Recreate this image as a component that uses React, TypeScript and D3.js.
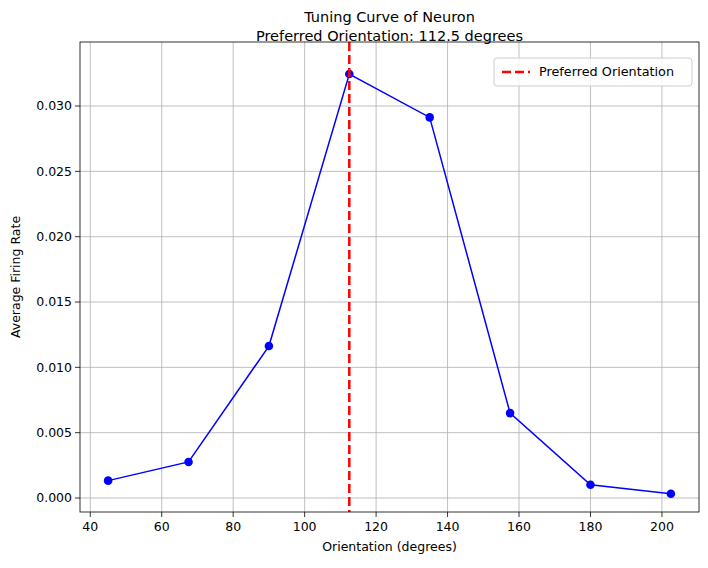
import { useEffect } from "react";
import * as d3 from "d3";

const orientations = [45, 67.5, 90, 112.5, 135, 157.5, 180, 202.5];
const firingRates = [0.00133, 0.00276, 0.01163, 0.03245, 0.02913, 0.0065, 0.00102, 0.00033];
const xTicks = [40, 60, 80, 100, 120, 140, 160, 180, 200];
const yTicks = [0, 0.005, 0.01, 0.015, 0.02, 0.025, 0.03];
const preferred = 112.5;

const W = 708;
const H = 568;
const m = { left: 80, right: 699, top: 42, bottom: 512 };
const font = "DejaVu Sans, sans-serif";

export default function App() {
  useEffect(() => {
    document.body.style.margin = "0";
  }, []);

  const x = d3.scaleLinear().domain([37.125, 210.375]).range([m.left, m.right]);
  const y = d3.scaleLinear().domain([-0.00107, 0.0349]).range([m.bottom, m.top]);
  const line = d3.line<number>().x((_, i) => x(orientations[i])).y((d) => y(d));
  const cx = (m.left + m.right) / 2;

  return (
    <svg width={W} height={H} style={{ display: "block", background: "#fff" }} fontFamily={font}>
      {xTicks.map((t) => (
        <g key={"x" + t}>
          <line x1={x(t)} x2={x(t)} y1={m.top} y2={m.bottom} stroke="#b0b0b0" strokeWidth={0.8} />
          <line x1={x(t)} x2={x(t)} y1={m.bottom} y2={m.bottom + 5} stroke="#000" strokeWidth={0.8} />
          <text x={x(t)} y={m.bottom + 19} textAnchor="middle" fontSize={12.5}>{t}</text>
        </g>
      ))}
      {yTicks.map((t) => (
        <g key={"y" + t}>
          <line x1={m.left} x2={m.right} y1={y(t)} y2={y(t)} stroke="#b0b0b0" strokeWidth={0.8} />
          <line x1={m.left - 5} x2={m.left} y1={y(t)} y2={y(t)} stroke="#000" strokeWidth={0.8} />
          <text x={m.left - 8} y={y(t)} dy="0.35em" textAnchor="end" fontSize={12.5}>{t.toFixed(3)}</text>
        </g>
      ))}
      <path d={line(firingRates) ?? ""} fill="none" stroke="blue" strokeWidth={1.5} />
      {firingRates.map((v, i) => (
        <circle key={i} cx={x(orientations[i])} cy={y(v)} r={4.3} fill="blue" />
      ))}
      <line x1={x(preferred)} x2={x(preferred)} y1={m.top} y2={m.bottom} stroke="red" strokeWidth={2.5} strokeDasharray="9,4" />
      <rect x={m.left} y={m.top} width={m.right - m.left} height={m.bottom - m.top} fill="none" stroke="#000" strokeWidth={0.8} />
      <g>
        <rect x={494} y={58} width={198} height={28} rx={3} fill="#fff" fillOpacity={0.8} stroke="#ccc" />
        <line x1={502} x2={530} y1={72} y2={72} stroke="red" strokeWidth={2.5} strokeDasharray="9,4" />
        <text x={539} y={72} dy="0.35em" fontSize={12.8}>Preferred Orientation</text>
      </g>
      <text x={cx} y={22} textAnchor="middle" fontSize={14.5}>Tuning Curve of Neuron</text>
      <text x={cx} y={45} textAnchor="middle" fontSize={14.5} dy="-0.3em">Preferred Orientation: 112.5 degrees</text>
      <text x={cx} y={551} textAnchor="middle" fontSize={12.5}>Orientation (degrees)</text>
      <text transform={`translate(20,${(m.top + m.bottom) / 2}) rotate(-90)`} textAnchor="middle" fontSize={12.5}>Average Firing Rate</text>
    </svg>
  );
}
